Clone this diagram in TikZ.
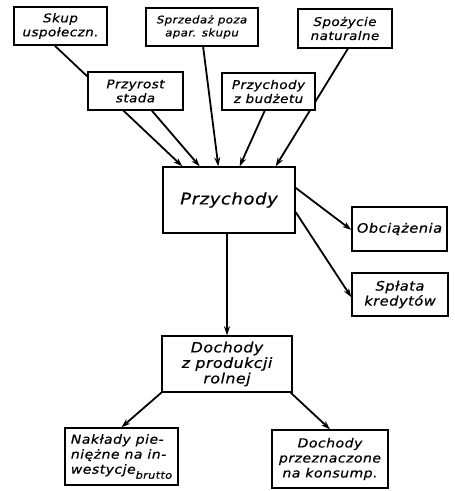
\documentclass[tikz,border=0pt]{standalone}
\usepackage{fontspec}
\setmainfont{DejaVu Sans}[ItalicFont={DejaVu Sans Oblique},ItalicFeatures={FakeStretch=1.12,LetterSpace=4,FakeBold=0.6}]
\usetikzlibrary{calc,arrows.meta}
\begin{document}
\begin{tikzpicture}[x=1pt,y=-1pt,
  box/.style={draw,line width=1.4pt,fill=white,inner sep=0pt,align=center,font=\itshape\fontsize{12}{14}\selectfont},
  conn/.style={line width=1.8pt,-{Stealth[length=9pt,width=6pt]}}]
\useasboundingbox (0,0) rectangle (455,491);
\node[box,minimum width=93pt,minimum height=38pt] (skup) at (60.5,26) {Skup\\uspołeczn.};
\node[box,minimum width=112pt,minimum height=38pt,font=\itshape\fontsize{10.5}{13}\selectfont] (sprzedaz) at (202,27) {Sprzedaż poza\\apar. skupu};
\node[box,minimum width=94pt,minimum height=39pt] (spozycie) at (345,28.5) {Spożycie\\naturalne};
\node[box,minimum width=132pt,minimum height=66pt,font=\itshape\fontsize{16}{18}\selectfont] (przychody) at (229,200) {Przychody};
\draw[conn] ($(skup.south west)!0.44!(skup.south east)$) -- ($(przychody.north west)!0.15!(przychody.north east)$);
\draw[conn] ($(spozycie.south west)!0.53!(spozycie.south east)$) -- ($(przychody.north west)!0.85!(przychody.north east)$);
\node[box,minimum width=95pt,minimum height=38pt] (przyrost) at (135.5,91) {Przyrost\\stada};
\node[box,minimum width=93pt,minimum height=37pt] (budzet) at (268.5,91.5) {Przychody\\z budżetu};
\draw[conn] ($(przyrost.south west)!0.67!(przyrost.south east)$) -- ($(przychody.north west)!0.28!(przychody.north east)$);
\draw[conn] ($(sprzedaz.south west)!0.51!(sprzedaz.south east)$) -- ($(przychody.north west)!0.42!(przychody.north east)$);
\draw[conn] ($(budzet.south west)!0.46!(budzet.south east)$) -- ($(przychody.north west)!0.58!(przychody.north east)$);
\node[box,minimum width=95pt,minimum height=44pt,font=\itshape\fontsize{13}{15}\selectfont] (obc) at (399.5,229) {Obciążenia};
\node[box,minimum width=96pt,minimum height=43pt,font=\itshape\fontsize{13}{15}\selectfont] (splata) at (400,294.5) {Spłata\\kredytów};
\draw[conn] ($(przychody.north east)!0.32!(przychody.south east)$) -- ($(obc.north west)!0.52!(obc.south west)$);
\draw[conn] ($(przychody.north east)!0.68!(przychody.south east)$) -- ($(splata.north west)!0.56!(splata.south west)$);
\node[box,minimum width=130pt,minimum height=56pt,font=\itshape\fontsize{14}{15.5}\selectfont] (dochody) at (227,364) {Dochody\\z produkcji\\rolnej};
\draw[conn] (przychody.south -| dochody.north) -- (dochody.north);
\node[box,minimum width=113pt,minimum height=57pt,align=left,font=\itshape\fontsize{12.5}{15}\selectfont] (naklady) at (121.5,456.5) {Nakłady pie-\\niężne na in-\\westycje\raisebox{-5pt}{\fontsize{10}{10}\selectfont brutto}};
\node[box,minimum width=116pt,minimum height=58pt,font=\itshape\fontsize{12.5}{15}\selectfont] (konsump) at (330,459) {Dochody\\przeznaczone\\na konsump.};
\draw[conn] (dochody.south west) -- (naklady.north);
\draw[conn] ($(dochody.south west)!0.985!(dochody.south east)$) -- (konsump.north);
\end{tikzpicture}
\end{document}
